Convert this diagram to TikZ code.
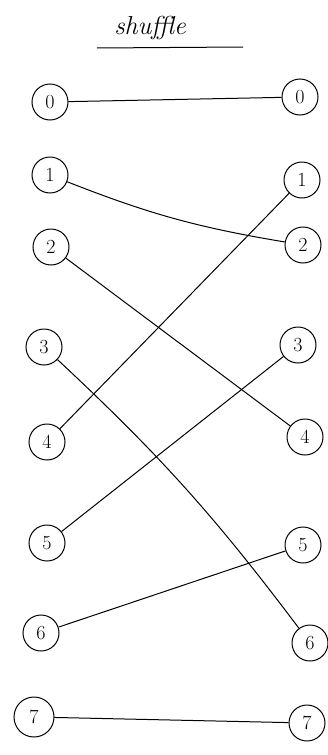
\documentclass[tikz,border=0pt]{standalone}
\begin{document}
\begin{tikzpicture}[x=1pt,y=-1pt,
  cnode/.style={draw,circle,minimum size=36pt,inner sep=0pt,line width=1pt,font=\fontsize{20}{20}\selectfont},
  wire/.style={line width=1pt}]
\useasboundingbox (0,0) rectangle (327,755);
\node[font=\fontsize{26}{26}\selectfont\itshape] (title) at (150,28) {shuffle};
\coordinate (ulA) at (97,48);
\coordinate (ulB) at (243,47);
\draw[wire] (ulA) -- (ulB);
% left column
\node[cnode] (L0) at (50,102) {0};
\node[cnode] (L1) at (50,175) {1};
\node[cnode] (L2) at (51,247) {2};
\node[cnode] (L3) at (44,347) {3};
\node[cnode] (L4) at (47,442) {4};
\node[cnode] (L5) at (47,543) {5};
\node[cnode] (L6) at (41,633) {6};
\node[cnode, minimum size=40pt] (L7) at (34,717) {7};
% right column
\node[cnode] (R0) at (300,97) {0};
\node[cnode] (R1) at (302,180) {1};
\node[cnode] (R2) at (303,245) {2};
\node[cnode] (R3) at (298,345) {3};
\node[cnode] (R4) at (305,437) {4};
\node[cnode] (R5) at (303,545) {5};
\node[cnode] (R6) at (310,643) {6};
\node[cnode] (R7) at (307,723) {7};
% connectors
\draw[wire] (L0) -- (R0);
\draw[wire] (L1) to[bend right=6] (R2);
\draw[wire] (L2) -- (R4);
\draw[wire] (L3) to[bend left=5] (R6);
\draw[wire] (L4) -- (R1);
\draw[wire] (L5) -- (R3);
\draw[wire] (L6) -- (R5);
\draw[wire] (L7) -- (R7);
\end{tikzpicture}
\end{document}
